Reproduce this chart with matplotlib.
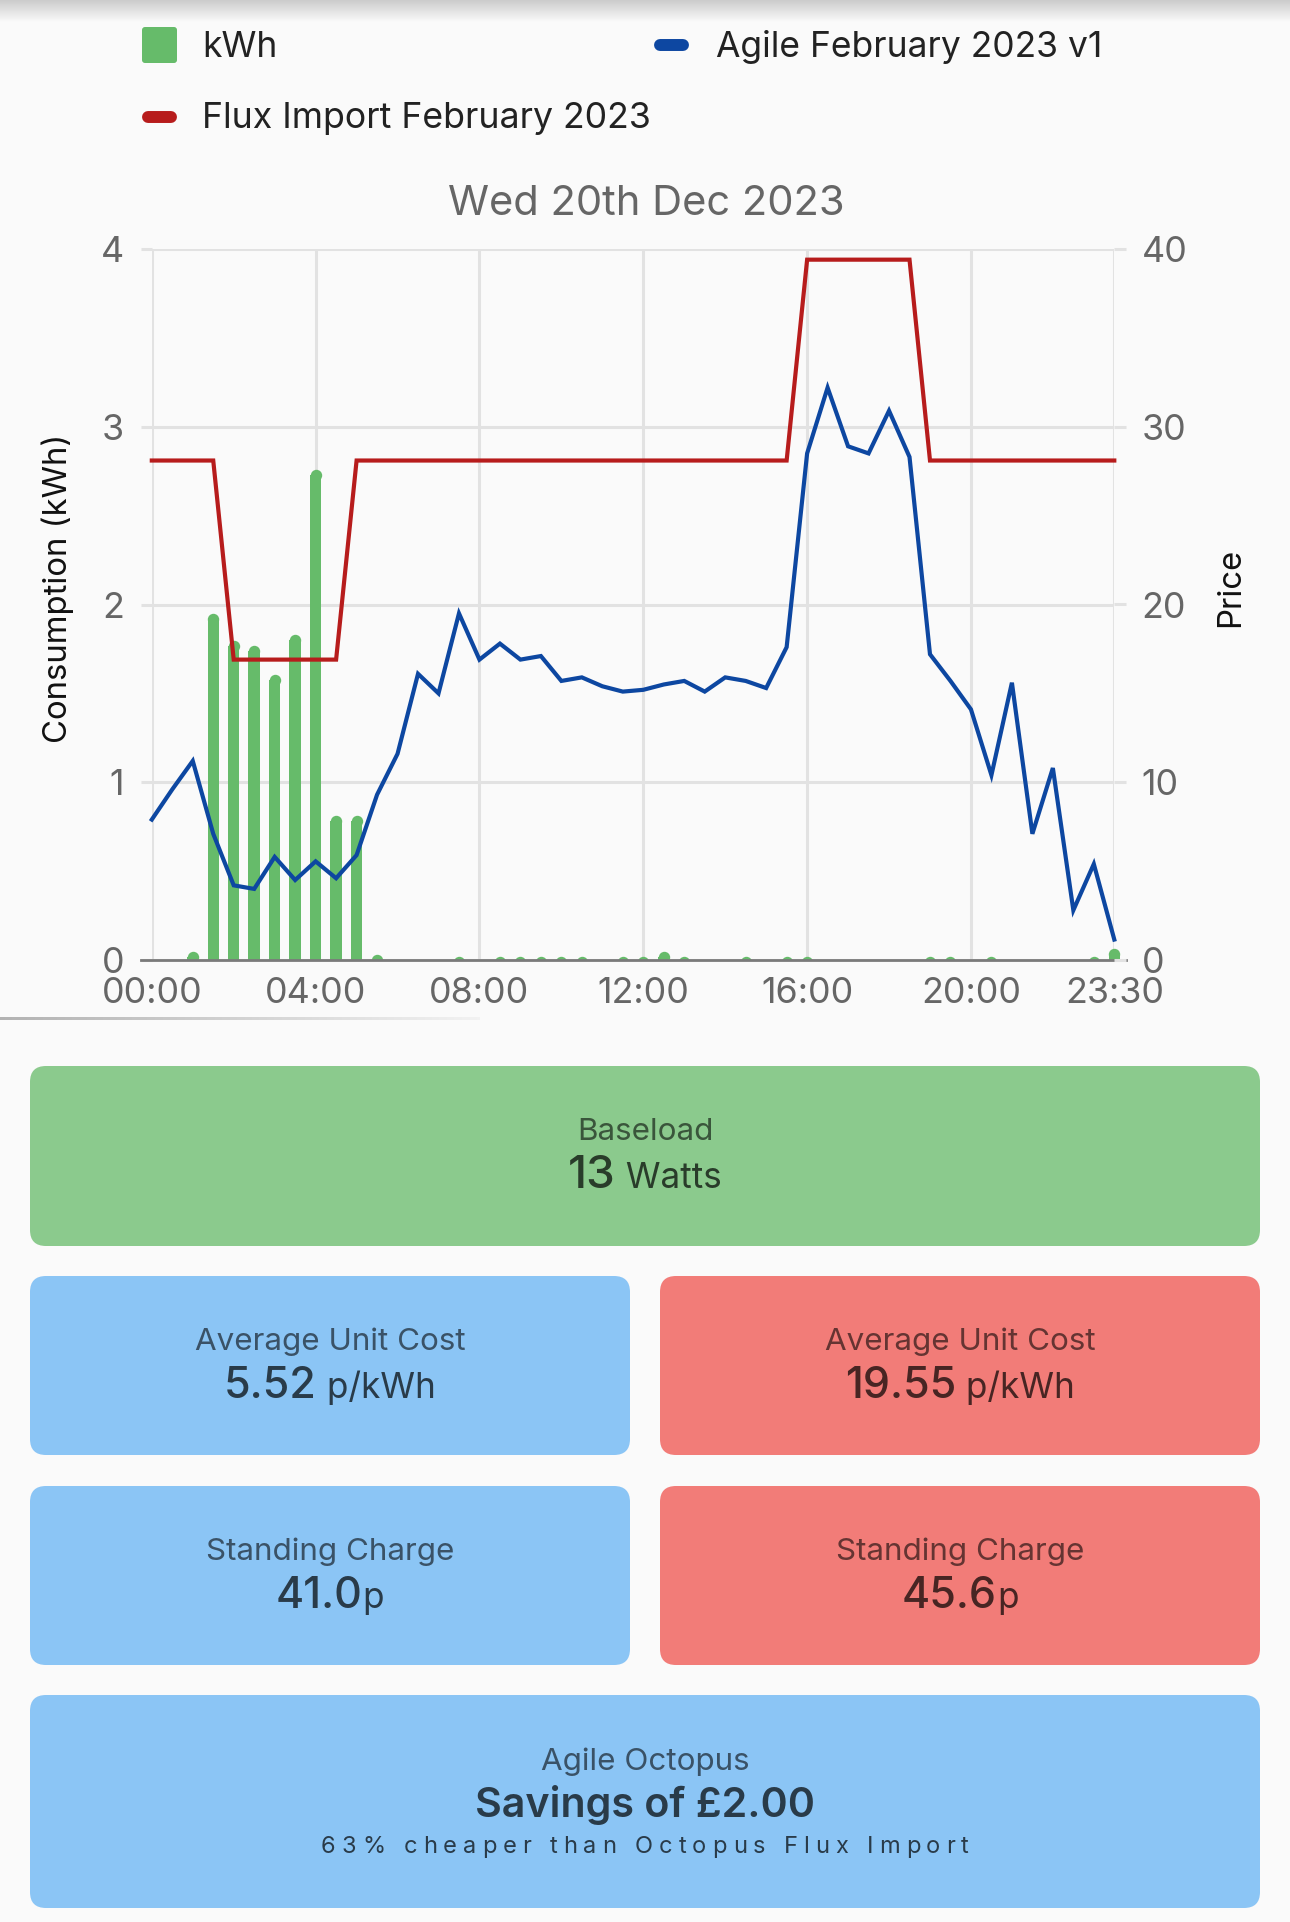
import matplotlib
matplotlib.use("Agg")
import matplotlib.pyplot as plt
from matplotlib.patches import FancyBboxPatch, Rectangle
import numpy as np

plt.rcParams['font.family'] = ['Inter', 'DejaVu Sans']

# half hourly slots, 00:00 .. 23:30
slots = ["%02d:%02d" % (h, m) for h in range(24) for m in (0, 30)]

kwh = [0, 0, 0.05, 1.95, 1.80, 1.77, 1.61, 1.83, 2.76, 0.815, 0.815, 0.03,
       0, 0, 0, 0.02, 0, 0.02, 0.02, 0.02, 0.02, 0.02, 0, 0.02,
       0.02, 0.05, 0.02, 0, 0, 0.02, 0, 0.02, 0.02, 0, 0, 0,
       0, 0, 0.02, 0.02, 0, 0.02, 0, 0, 0, 0, 0.02, 0.065]

agile = [7.9, 9.6, 11.2, 7.1, 4.2, 4.0, 5.8, 4.5, 5.55, 4.6, 5.9, 9.3,
         11.6, 16.1, 15.0, 19.5, 16.9, 17.8, 16.9, 17.1, 15.7, 15.9, 15.4, 15.1,
         15.2, 15.5, 15.7, 15.1, 15.9, 15.7, 15.3, 17.6, 28.5, 32.2, 28.9, 28.5,
         30.9, 28.3, 17.2, 15.7, 14.1, 10.4, 15.6, 7.1, 10.8, 2.8, 5.4, 1.15]

flux = [28.1, 28.1, 28.1, 28.1, 16.9, 16.9, 16.9, 16.9, 16.9, 16.9, 28.1, 28.1,
        28.1, 28.1, 28.1, 28.1, 28.1, 28.1, 28.1, 28.1, 28.1, 28.1, 28.1, 28.1,
        28.1, 28.1, 28.1, 28.1, 28.1, 28.1, 28.1, 28.1, 39.4, 39.4, 39.4, 39.4,
        39.4, 39.4, 28.1, 28.1, 28.1, 28.1, 28.1, 28.1, 28.1, 28.1, 28.1, 28.1]

xtick_labels = ["00:00", "04:00", "08:00", "12:00", "16:00", "20:00", "23:30"]
kwh_ticks = [0, 1, 2, 3, 4]
price_ticks = [0, 10, 20, 30, 40]

title = "Wed 20th Dec 2023"
series_names = ["kWh", "Agile February 2023 v1", "Flux Import February 2023"]

# cards: (label, value, unit, colour, box in px)
cards = [
    ("Baseload", "13", " Watts", "#8bca8d", (30, 1066, 1230, 180)),
    ("Average Unit Cost", "5.52", " p/kWh", "#8bc5f5", (30, 1276, 600, 179)),
    ("Average Unit Cost", "19.55", " p/kWh", "#f27c78", (660, 1276, 600, 179)),
    ("Standing Charge", "41.0", "p", "#8bc5f5", (30, 1486, 600, 179)),
    ("Standing Charge", "45.6", "p", "#f27c78", (660, 1486, 600, 179)),
]
savings_label = "Agile Octopus"
savings_value = "Savings of £2.00"
savings_note = "63% cheaper than Octopus Flux Import"

GREEN = "#66bb6a"
BLUE = "#0d47a1"
RED = "#b71c1c"
GRID = "#e2e2e2"
TICK = "#666666"

W, H = 1290, 1922
fig = plt.figure(figsize=(W / 100, H / 100), dpi=100)
fig.patch.set_facecolor("#fafafa")

# background axes in pixel coordinates
bg = fig.add_axes([0, 0, 1, 1])
bg.set_xlim(0, W)
bg.set_ylim(H, 0)
bg.axis("off")
bg.set_zorder(0)

# top shadow
shade = np.linspace(0.80, 0.98, 40).reshape(-1, 1)
bg.imshow(np.dstack([shade] * 3), extent=[0, W, 22, 0], aspect="auto", zorder=0)

# separator under the chart
sep = np.linspace(0.70, 0.95, 200).reshape(1, -1)
bg.imshow(np.dstack([sep] * 3), extent=[0, 480, 1020, 1017.5], aspect="auto", zorder=0)

# ---- chart ----
left, right, top, bottom = 151.8, 1114.3, 249.0, 960.0
ax = fig.add_axes([left / W, 1 - bottom / H, (right - left) / W, (bottom - top) / H])
ax.set_zorder(1)
ax.patch.set_visible(False)
ax2 = ax.twinx()
ax2.patch.set_visible(False)

n = len(slots)
x = np.arange(n)
ax.set_xlim(0, n - 1)
ax.set_ylim(0, 4)
ax2.set_ylim(0, 40)

for a in (ax, ax2):
    for s in a.spines.values():
        s.set_visible(False)

ax.set_xticks([slots.index(t) for t in xtick_labels])
ax.set_xticklabels(xtick_labels)
ax.set_yticks(kwh_ticks)
ax.set_yticklabels([str(v) for v in kwh_ticks])
ax2.set_yticks(price_ticks)
ax2.set_yticklabels([str(v) for v in price_ticks])

ax.grid(True, color=GRID, lw=2.2, zorder=0)
ax.tick_params(axis="x", length=0, pad=12, labelsize=25.8, labelcolor=TICK)
ax.tick_params(axis="y", length=7.8, width=2.2, color=GRID, pad=12.0,
               labelsize=25.8, labelcolor=TICK)
ax2.tick_params(axis="y", length=8.6, width=2.2, color=GRID, pad=11.0,
                labelsize=25.8, labelcolor=TICK)

# rounded-top bars
ax_h_px = bottom - top
slot_px = (right - left) / (n - 1)
bar_px = 11.4
r_data = (bar_px / 2) / ax_h_px * 4
clip = Rectangle((-0.03, 0), 1.06, 1.0, transform=ax.transAxes)
kwh_arr = np.array(kwh)
mask = kwh_arr > 0
bars = ax.bar(x[mask], np.clip(kwh_arr[mask] - r_data, 0, None), width=bar_px / slot_px,
              color=GREEN, lw=0, zorder=2)
caps = ax.scatter(x[mask], kwh_arr[mask] - r_data, s=(bar_px * 0.72) ** 2,
                  color=GREEN, lw=0, zorder=2)
for b in bars:
    b.set_clip_path(clip)
caps.set_clip_path(clip)

# zero line
ax.plot([(141 - left) / (right - left), (1126 - left) / (right - left)], [0, 0],
        transform=ax.get_yaxis_transform(), color="#7a7a7a", lw=2.0,
        clip_on=False, zorder=3)

ax2.plot(x, flux, color=RED, lw=3.0, solid_joinstyle="miter", zorder=3, clip_on=False)
ax2.plot(x, agile, color=BLUE, lw=3.0, solid_joinstyle="miter", zorder=4, clip_on=False)

fig.text(57.5 / W, 1 - 588.6 / H, "Consumption (kWh)", rotation=90, ha="center",
         va="center", fontsize=23.7, color="#111111")
fig.text(1230.5 / W, 1 - 587.5 / H, "Price", rotation=90, ha="center",
         va="center", fontsize=23.7, color="#111111")

# title + legend
bg.text(646, 215, title, ha="center", va="baseline", fontsize=30, color=TICK)

bg.add_patch(FancyBboxPatch((142, 27), 35, 36, boxstyle="round,pad=0,rounding_size=3",
                            fc=GREEN, ec="none"))
bg.plot([660, 683], [45, 45], color=BLUE, lw=8.6, solid_capstyle="round")
bg.plot([148, 171], [117, 117], color=RED, lw=8.6, solid_capstyle="round")
bg.text(202, 57, series_names[0], va="baseline", fontsize=25.5, color="#222222")
bg.text(716, 57, series_names[1], va="baseline", fontsize=25.5, color="#222222")
bg.text(202, 128, series_names[2], va="baseline", fontsize=25.7, color="#222222")

# ---- cards ----
renderer = fig.canvas.get_renderer()
LABEL_C = (0, 0, 0, 0.58)
VALUE_C = (0, 0, 0, 0.70)


def card(box, colour):
    x0, y0, w, h = box
    bg.add_patch(FancyBboxPatch((x0, y0), w, h, boxstyle="round,pad=0,rounding_size=16",
                                fc=colour, ec="none", zorder=1))


def runs(cx, y, parts):
    items = []
    total = 0
    for txt, size, weight in parts:
        t = bg.text(0, y, txt, fontsize=size, fontweight=weight, color=VALUE_C,
                    va="baseline", ha="left", zorder=3)
        wpx = t.get_window_extent(renderer).width
        items.append((t, wpx))
        total += wpx
    pos = cx - total / 2
    for t, wpx in items:
        t.set_x(pos)
        pos += wpx


def adv(ch, size):
    a = bg.text(0, 0, "x" + ch + "x", fontsize=size)
    b = bg.text(0, 0, "xx", fontsize=size)
    w = a.get_window_extent(renderer).width - b.get_window_extent(renderer).width
    a.remove()
    b.remove()
    return w


for label, value, unit, colour, box in cards:
    card(box, colour)
    cx = box[0] + box[2] / 2
    bg.text(cx, box[1] + 74, label, ha="center", va="baseline", fontsize=22.6,
            color=LABEL_C, zorder=3)
    vsize = 33 if value == "13" else 31
    runs(cx, box[1] + 122, [(value, vsize, "medium"), (unit, 25.3, "normal")])

sbox = (30, 1695, 1230, 213)
card(sbox, "#8bc5f5")
scx = sbox[0] + sbox[2] / 2
bg.text(scx, 1770, savings_label, ha="center", va="baseline", fontsize=22.6,
        color=LABEL_C, zorder=3)
bg.text(scx, 1817, savings_value, ha="center", va="baseline", fontsize=29.7,
        fontweight="semibold", color=VALUE_C, zorder=3)

# letter-spaced note
note_size = 17
widths = [adv(c, note_size) for c in savings_note]
track = (648 - sum(widths)) / (len(savings_note) - 1)
px = scx - 648 / 2
for c, wc in zip(savings_note, widths):
    if c != " ":
        bg.text(px, 1853, c, fontsize=note_size, color=VALUE_C, va="baseline",
                ha="left", zorder=3)
    px += wc + track

fig.savefig("out.png", dpi=100, facecolor=fig.get_facecolor())
